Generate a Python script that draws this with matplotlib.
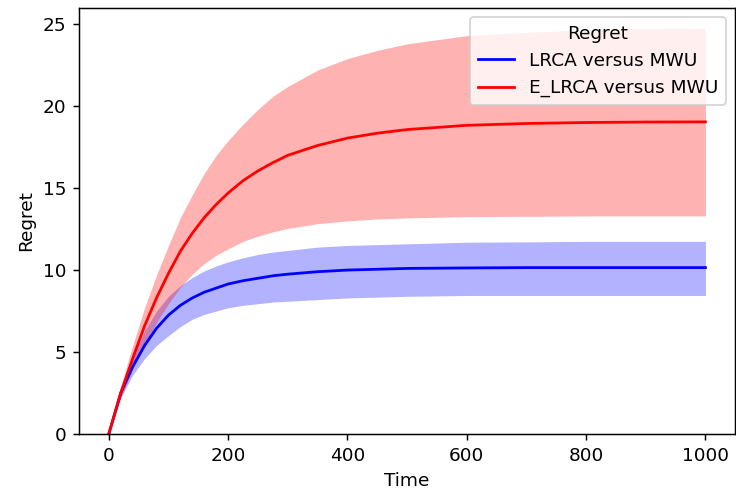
import matplotlib
matplotlib.use("Agg")
import matplotlib.pyplot as plt

# time steps
time = [0, 20, 40, 60, 80, 100, 120, 140, 160, 180, 200, 225, 250, 275, 300,
        350, 400, 450, 500, 600, 700, 800, 900, 1000]

# LRCA versus MWU
lrca_mean = [0, 2.5, 4.1, 5.4, 6.45, 7.25, 7.85, 8.3, 8.65, 8.9, 9.15, 9.35, 9.5, 9.65, 9.75,
             9.9, 10.0, 10.05, 10.1, 10.13, 10.15, 10.15, 10.15, 10.15]
lrca_upper = [0, 2.8, 4.7, 6.3, 7.5, 8.4, 9.05, 9.55, 9.95, 10.25, 10.5, 10.75, 10.95, 11.1, 11.2,
              11.4, 11.5, 11.55, 11.6, 11.7, 11.72, 11.75, 11.75, 11.75]
lrca_lower = [0, 2.2, 3.6, 4.6, 5.4, 6.0, 6.55, 7.0, 7.3, 7.5, 7.7, 7.85, 7.95, 8.05, 8.1,
              8.2, 8.3, 8.35, 8.4, 8.45, 8.45, 8.45, 8.45, 8.45]

# E_LRCA versus MWU
elrca_mean = [0, 2.5, 4.6, 6.6, 8.3, 9.8, 11.15, 12.25, 13.2, 14.0, 14.7, 15.45, 16.05, 16.55, 17.0,
              17.6, 18.05, 18.35, 18.57, 18.83, 18.94, 19.0, 19.03, 19.04]
elrca_upper = [0, 2.9, 5.4, 7.7, 9.7, 11.5, 13.2, 14.6, 15.9, 17.0, 17.9, 18.9, 19.8, 20.6, 21.2,
               22.2, 22.9, 23.4, 23.8, 24.3, 24.5, 24.65, 24.72, 24.75]
elrca_lower = [0, 2.2, 4.0, 5.5, 6.8, 7.95, 8.95, 9.75, 10.4, 10.9, 11.3, 11.75, 12.07, 12.33, 12.54,
               12.83, 13.0, 13.12, 13.18, 13.26, 13.28, 13.3, 13.3, 13.3]

fig = plt.figure(figsize=(736 / 133, 498 / 133), dpi=133)
ax = fig.add_axes([0.1073, 0.1285, 0.8917, 0.8555])

ax.plot(time, lrca_mean, color='blue', label='LRCA versus MWU')
ax.fill_between(time, lrca_lower, lrca_upper, color='blue', alpha=0.3, linewidth=0)
ax.plot(time, elrca_mean, color='red', label='E_LRCA versus MWU')
ax.fill_between(time, elrca_lower, elrca_upper, color='red', alpha=0.3, linewidth=0)

ax.set_ylim(bottom=0)
ax.set_xlabel('Time')
ax.set_ylabel('Regret')
ax.legend(title='Regret', loc='upper right')

fig.savefig('out.png', dpi=133)
